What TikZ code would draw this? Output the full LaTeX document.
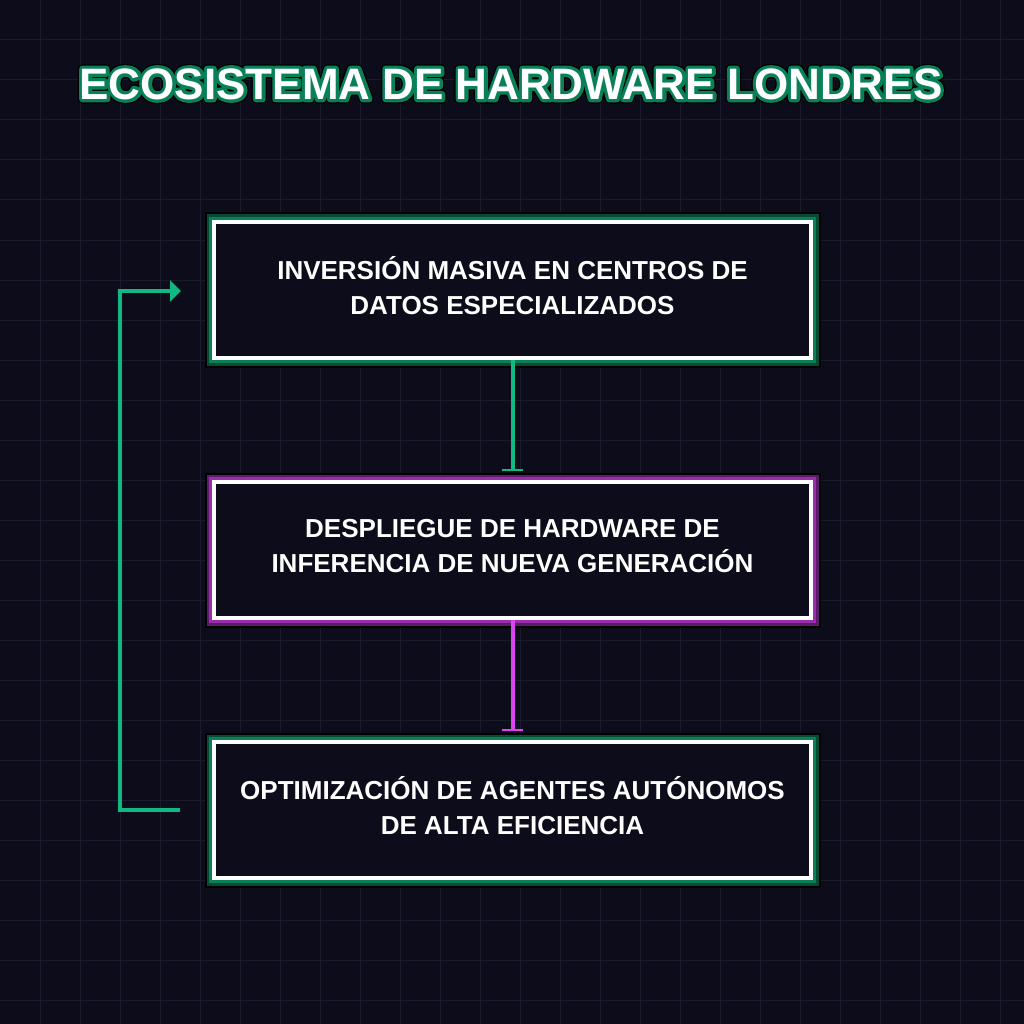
\documentclass[tikz,border=0pt]{standalone}
\usepackage{fontspec}
\setmainfont{Liberation Sans}
\usetikzlibrary{arrows.meta,calc}
\definecolor{bgc}{HTML}{0C0C1A}
\definecolor{gridc}{HTML}{1B1B2E}
\definecolor{emer}{HTML}{10B981}
\definecolor{emerm}{HTML}{0A7F58}
\definecolor{emerd}{HTML}{064A35}
\definecolor{fuch}{HTML}{D946EF}
\definecolor{fuchm}{HTML}{9A2DAB}
\definecolor{fuchd}{HTML}{5E1A6B}
\tikzset{
  boxg/.style={draw=white, line width=4pt, fill=bgc, minimum width=597pt, minimum height=136pt,
    inner sep=0pt, text=white, align=center, font=\fontsize{26}{35}\selectfont\bfseries,
    preaction={draw=black, line width=19pt},
    preaction={draw=emerd, line width=15pt},
    preaction={draw=emerm, line width=10pt}},
  boxm/.style={boxg,
    preaction={draw=black, line width=19pt},
    preaction={draw=fuchd, line width=15pt},
    preaction={draw=fuchm, line width=10pt}},
  conn/.style={line width=4pt},
  ttlf/.style={font=\fontsize{44}{50}\selectfont\bfseries, inner sep=0pt, text=white},
}
\newcommand{\strokedtext}[3]{\special{pdf:literal direct q 1 Tr #2 w 1 j #3 RG}#1\special{pdf:literal direct Q}}
\newcommand{\lowstrut}{\rule[-9pt]{0pt}{1pt}}
\begin{document}
\begin{tikzpicture}[x=1pt,y=-1pt]
\fill[bgc] (0,0) rectangle (1024,1024);
\useasboundingbox (0,0) rectangle (1024,1024);
\foreach \i in {40,80,...,1000}{
  \draw[gridc, line width=1pt] (\i,0) -- (\i,1024);
  \draw[gridc, line width=1pt] (0,\i) -- (1024,\i);
}
% title: outline layers then white fill
\node[ttlf] (titleglow) at (511,84) {\strokedtext{ECOSISTEMA DE HARDWARE LONDRES}{9}{0 0 0}};
\node[ttlf] (titleline) at (511,84) {\strokedtext{ECOSISTEMA DE HARDWARE LONDRES}{6.5}{0.04 0.5 0.35}};
\node[ttlf] (title) at (511,84) {ECOSISTEMA DE HARDWARE LONDRES};
% boxes
\node[boxg] (b1) at (512.5,290) {INVERSIÓN MASIVA EN CENTROS DE\\DATOS ESPECIALIZADOS\lowstrut};
\node[boxm] (b2) at (512.5,550) {DESPLIEGUE DE HARDWARE DE\\INFERENCIA DE NUEVA GENERACIÓN\lowstrut};
\node[boxg] (b3) at (512.5,810) {OPTIMIZACIÓN DE AGENTES AUTÓNOMOS\\DE ALTA EFICIENCIA\lowstrut};
% connectors
\draw[conn, emer, shorten >=9pt, -{Bar[width=21pt, line width=2pt]}] (b1.south) -- (b2.north);
\draw[conn, fuch, shorten >=9pt, -{Bar[width=21pt, line width=2pt]}] (b2.south) -- (b3.north);
\coordinate (ls) at ($(b3.west)+(-32,0)$);
\coordinate (le) at ($(b1.west)+(-31,1)$);
\draw[conn, emer, -{Triangle[length=11pt, width=21pt]}] (ls) -- ++(-60,0) |- (le);
\end{tikzpicture}
\end{document}
